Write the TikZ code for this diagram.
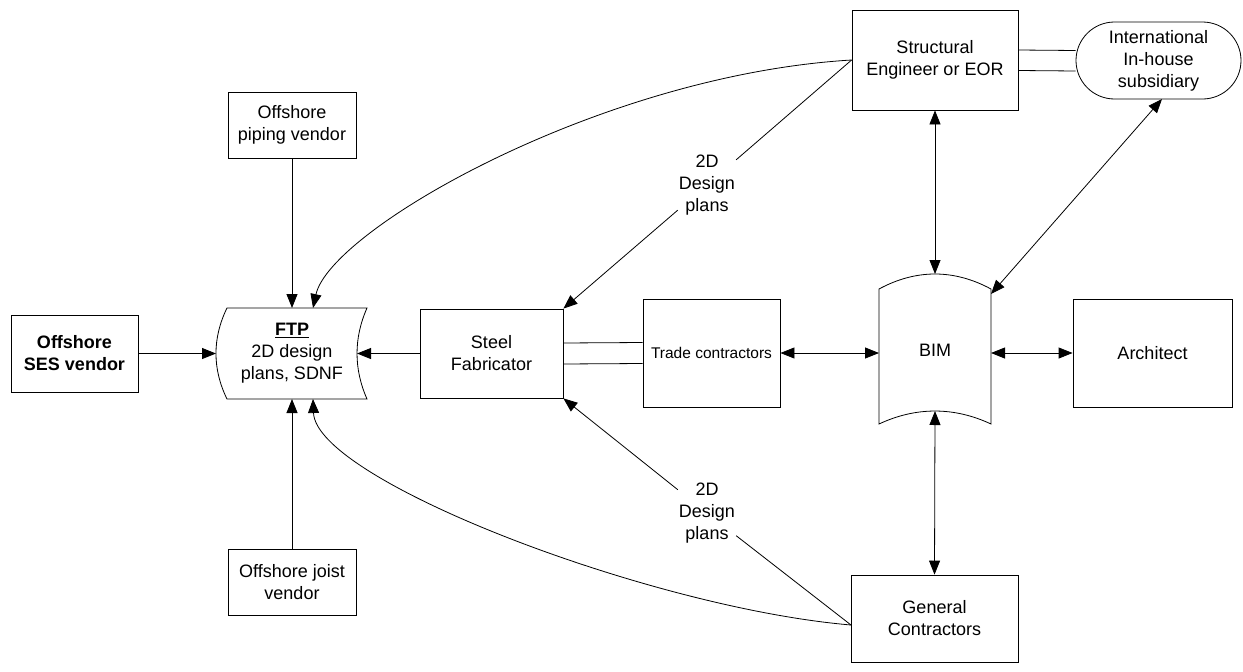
\documentclass[tikz,border=0pt]{standalone}
\usepackage{fontspec}
\setmainfont{Liberation Sans}
\usetikzlibrary{arrows.meta}

\begin{document}
\begin{tikzpicture}[x=1pt,y=-1pt,
  txt/.style={font=\fontsize{18}{22}\selectfont, align=center},
  box/.style={txt, draw, line width=0.8pt, inner sep=0pt},
  lab/.style={txt, inner sep=1pt},
  conn/.style={line width=0.8pt},
  ar/.style={conn, -{Triangle[length=14pt,width=11pt]}},
  dar/.style={conn, {Triangle[length=14pt,width=11pt]}-{Triangle[length=14pt,width=11pt]}}]
\useasboundingbox (0,0) rectangle (1243,672);

% plain boxes
\node[box, minimum width=127pt, minimum height=77pt] (ses) at (74.5,353.5) {\textbf{Offshore}\\\textbf{SES vendor}};
\node[box, minimum width=128pt, minimum height=66pt] (pipe) at (292,125) {Offshore\\piping vendor};
\node[box, minimum width=128pt, minimum height=66pt] (joist) at (292,582) {Offshore joist\\vendor};
\node[box, minimum width=143pt, minimum height=89pt] (sf) at (491.5,353.5) {Steel\\Fabricator};
\node[box, minimum width=137pt, minimum height=108pt, font=\fontsize{15.5}{19}\selectfont] (tc) at (711.5,353) {Trade contractors};
\node[box, minimum width=159pt, minimum height=108pt] (arch) at (1152.5,353) {Architect};
\node[box, minimum width=166pt, minimum height=100pt] (se) at (935,60) {Structural\\Engineer or EOR};
\node[box, minimum width=167pt, minimum height=87pt] (gc) at (934.5,618.5) {General\\Contractors};
\node[box, rounded corners=38.5pt, minimum width=165pt, minimum height=77pt] (intl) at (1158.5,60.5) {International\\In-house\\subsidiary};

% FTP data store (both sides curved to the left)
\draw[line width=0.8pt] (227,308) -- (367,308)
  .. controls (353.7,338) and (353.7,369) .. (367,399) -- (227,399)
  .. controls (212.3,369) and (212.3,338) .. cycle;
\node[txt] (ftp) at (292,353) {\textbf{\underline{FTP}}\\2D design\\plans, SDNF};
\coordinate (ftpW) at (216,353.5);
\coordinate (ftpE) at (357,353.5);
\coordinate (ftpN) at (292,308);
\coordinate (ftpS) at (292,399);
\coordinate (ftpNc) at (313,308);
\coordinate (ftpSc) at (313,399);

% BIM document shape (top and bottom arcs bulge upward)
\draw[line width=0.8pt] (879,289) .. controls (916,269) and (954,269) .. (991,289)
  -- (991,424) .. controls (954,406.7) and (916,406.7) .. (879,424) -- cycle;
\node[txt] (bim) at (935,350) {BIM};
\coordinate (bimN) at (935,274);
\coordinate (bimS) at (935,411);
\coordinate (bimW) at (879,353);
\coordinate (bimE) at (991,353);
\coordinate (bimNE) at (991,294);

% labels on the design-plan lines
\node[lab] (lab1) at (707,185) {2D\\Design\\plans};
\node[lab] (lab2) at (707,513) {2D\\Design\\plans};
\coordinate (gcA) at (851,625);
\coordinate (intlS) at (1162,99);

% paired link lines
\draw[conn] ([yshift=10pt]se.east) -- ([yshift=10pt]intl.west);
\draw[conn] ([yshift=-10.5pt]se.east) -- ([yshift=-10.5pt]intl.west);
\draw[conn] ([yshift=10.5pt]sf.east) -- ([yshift=10.5pt]tc.west);
\draw[conn] ([yshift=-10.5pt]sf.east) -- ([yshift=-10.5pt]tc.west);

% arrows into the FTP store
\draw[ar] (ses.east) -- (ftpW);
\draw[ar] (sf.west) -- (ftpE);
\draw[ar] (pipe.south) -- (ftpN);
\draw[ar] (joist.north) -- (ftpS);
\draw[ar] (se.west) .. controls (600,75) and (330,230) .. (ftpNc);
\draw[ar] (gcA) .. controls (650,608) and (316,480) .. (ftpSc);

% design plans to the steel fabricator
\draw[conn] (se.west) -- (lab1);
\draw[ar] (lab1) -- (sf.north east);
\draw[conn] (gcA) -- (lab2);
\draw[ar] (lab2) -- (sf.south east);

% two-way links with BIM
\draw[dar] (se.south) -- (bimN);
\draw[dar] (bimS) -- (gc.north);
\draw[dar] (tc.east) -- (bimW);
\draw[dar] (bimE) -- (arch.west);
\draw[dar] (intlS) -- (bimNE);
\end{tikzpicture}
\end{document}
